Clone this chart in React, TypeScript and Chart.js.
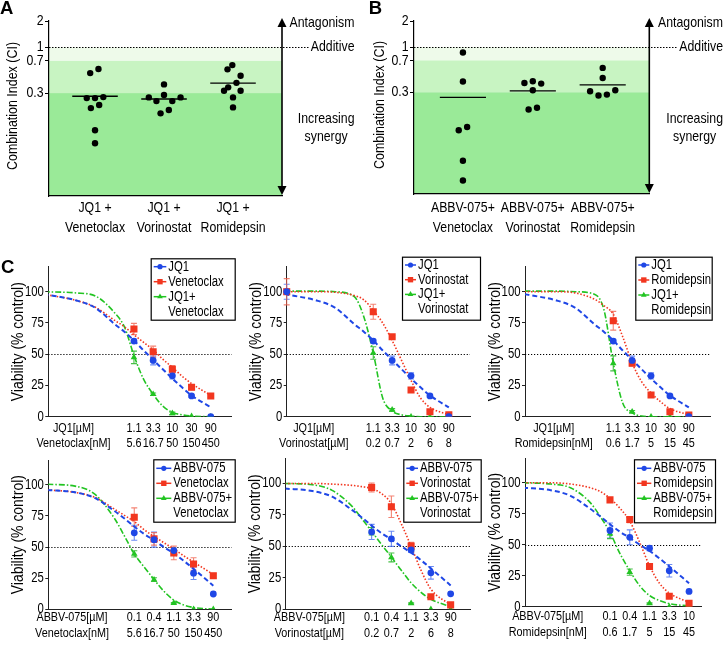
import React, { useEffect, useRef } from "react";
import { Chart, registerables } from "chart.js";

Chart.register(...registerables);

const FONT = "'Liberation Sans', Arial, Helvetica, sans-serif";
Chart.defaults.font.family = FONT;
Chart.defaults.color = "#000";

/* ================= Panels A / B : combination index ================= */
const ciLabelsA = [["JQ1 +", "Venetoclax"], ["JQ1 +", "Vorinostat"], ["JQ1 +", "Romidepsin"]];
const ciLabelsB = [["ABBV-075+", "Venetoclax"], ["ABBV-075+", "Vorinostat"], ["ABBV-075+", "Romidepsin"]];
const ciTickValues = [2, 1, 0.7, 0.3];

const ciJq1Venetoclax = [0.565, 0.508, 0.263, 0.263, 0.27, 0.219, 0.202, 0.113, 0.08];
const ciJq1VenetoclaxSpread = [0.05, -0.07, -0.12, 0, 0.12, 0.06, -0.06, 0, 0];
const ciJq1Vorinostat = [0.377, 0.268, 0.243, 0.285, 0.243, 0.268, 0.176, 0.192];
const ciJq1VorinostatSpread = [0, -0.22, -0.11, 0, 0.12, 0.24, -0.05, 0.07];
const ciJq1Romidepsin = [0.56, 0.627, 0.473, 0.393, 0.349, 0.319, 0.319, 0.268, 0.206];
const ciJq1RomidepsinSpread = [-0.08, -0.01, 0.11, 0.05, -0.07, -0.13, 0.11, 0, 0];

const ciAbbvVenetoclax = [0.866, 0.399, 0.109, 0.119, 0.0484, 0.0286];
const ciAbbvVenetoclaxSpread = [0, 0, -0.06, 0.06, 0, 0];
const ciAbbvVorinostat = [0.384, 0.402, 0.378, 0.316, 0.19, 0.199];
const ciAbbvVorinostatSpread = [-0.12, 0, 0.12, 0, -0.06, 0.06];
const ciAbbvRomidepsin = [0.574, 0.439, 0.308, 0.275, 0.282, 0.316];
const ciAbbvRomidepsinSpread = [0, 0, -0.18, -0.06, 0.06, 0.18];

/* ================= Panel C : dose response ================= */
const doseSteps = [0, 1, 2, 3, 4];
const fitStepsTop = [-4.7, -3, -2, -1, -0.5, 0, 0.5, 1, 1.5, 2, 2.5, 3, 4];
const fitStepsBottom = [-4.4, -3, -2, -1, -0.5, 0, 0.5, 1, 1.5, 2, 2.5, 3, 4];

const jq1Doses = ["1.1", "3.3", "10", "30", "90"];
const abbvDoses = ["0.1", "0.4", "1.1", "3.3", "90"];
const abbvDosesRomidepsin = ["0.1", "0.4", "1.1", "3.3", "10"];
const venetoclaxDoses = ["5.6", "16.7", "50", "150", "450"];
const vorinostatDoses = ["0.2", "0.7", "2", "6", "8"];
const romidepsinDoses = ["0.6", "1.7", "5", "15", "45"];
const viabilityTicks = [0, 25, 50, 75, 100];

const jq1Viability = [60.5, 45, 32.7, 16.6, 0];
const jq1Error = [1.5, 3.5, 2.5, 1, 0];
const jq1Fit = [98, 93, 87, 74, 68, 61, 53, 45.5, 38, 30.5, 23.5, 17, 7.5];

const venetoclaxViabilityTop = [70.2, 52, 38, 23.5, 16.6];
const venetoclaxErrorTop = [4.5, 4.5, 3, 2, 1];
const venetoclaxFitTop = [98, 93, 87.5, 77, 72, 65.5, 59.5, 53.5, 46, 39.5, 32.5, 26.5, 17];
const jq1VenetoclaxViability = [47.5, 18, 2.7, 0.3, 0];
const jq1VenetoclaxError = [5, 1, 1, 0, 0];
const jq1VenetoclaxFit = [100, 99, 96.5, 83, 72, 49, 30, 18, 8.5, 3.5, 1.5, 0.5, 0];

const vorinostatViabilityTop = [84, 64, 21.4, 4, 1.5];
const vorinostatErrorTop = [6, 1, 1, 1, 0.5];
const vorinostatFitTop = [100, 100, 99.5, 97, 93.5, 85, 75, 61, 45, 29, 15, 7.5, 1.5];
const jq1VorinostatViability = [51, 5.5, 0, 0, 0];
const jq1VorinostatError = [5, 1, 0, 0, 0];
const jq1VorinostatFit = [100.5, 100.5, 100, 96, 80, 51, 15, 4.5, 1.5, 0.5, 0, 0, 0];
const vorinostatControl = [100, 100];
const vorinostatControlError = [6, 10.5];

const romidepsinViabilityTop = [76.8, 42.7, 17.4, 4, 1.4];
const romidepsinErrorTop = [7.5, 2, 1, 0.5, 0.5];
const romidepsinFitTop = [100, 100, 99, 94, 89, 82, 64, 43, 28, 19, 12, 6.5, 1.5];
const jq1RomidepsinViability = [42.7, 4, 0, 0, 0];
const jq1RomidepsinError = [6, 1, 0, 0, 0];
const jq1RomidepsinFit = [100.5, 100.5, 100, 98, 86, 43, 11, 3, 0.5, 0, 0, 0, 0];

const abbvViability = [61.5, 56, 47.2, 29, 12.3];
const abbvError = [6, 6, 2, 5, 0];
const abbvFit = [96, 94, 89.5, 79, 73, 66.5, 60.5, 55.5, 50, 45, 39, 32.5, 19];

const venetoclaxViabilityBottom = [74, 56.6, 45.3, 36.4, 27];
const venetoclaxErrorBottom = [7.5, 5, 5.5, 5, 2];
const venetoclaxFitBottom = [96, 94, 90, 80.5, 75.5, 70.5, 64, 58.5, 53.5, 48.5, 43, 38, 28];
const abbvVenetoclaxViability = [44.5, 23.8, 5, 0.1, 0];
const abbvVenetoclaxError = [2.5, 1.5, 0.5, 0, 0];
const abbvVenetoclaxFit = [100.5, 99, 92.5, 73, 59, 44.5, 34, 24, 14.5, 7.5, 3.5, 1.5, 0];

const vorinostatViabilityBottom = [96.8, 81.5, 50.2, 10, 3.5];
const vorinostatErrorBottom = [3.5, 8.5, 3, 1, 0.5];
const vorinostatFitBottom = [100, 100, 99.5, 98.5, 97.5, 96, 92, 84, 68, 50, 31, 16, 3.5];
const abbvVorinostatViability = [62, 41.2, 4.7, 0, 0];
const abbvVorinostatError = [3, 3.5, 0.5, 0, 0];
const abbvVorinostatFit = [100, 99, 94.5, 82, 72, 62, 51.5, 41.5, 31, 21, 13.5, 8, 2];

const romidepsinViabilityBottom = [86.2, 70.3, 32.4, 8.5, 2.7];
const romidepsinErrorBottom = [1.5, 2.5, 1.5, 1, 0.5];
const romidepsinFitBottom = [100, 100, 99, 96, 93, 87.5, 79.5, 69, 52, 33, 19, 11, 3.5];
const abbvRomidepsinViability = [58.9, 27.9, 2.7, 0, 0];
const abbvRomidepsinError = [4, 2.5, 0.5, 0, 0];
const abbvRomidepsinFit = [100, 99, 96, 84, 73, 60, 43, 29, 17, 9, 5, 2.5, 0.5];

/* ================= styles ================= */
const STYLE: any = {
  blue: { color: "#1f47e6", err: "rgba(70,110,240,0.8)", point: "circle", radius: 3.4, dash: [5, 3], width: 2, lpoint: 2.6 },
  red: { color: "#f2361f", err: "rgba(240,100,80,0.8)", point: "rect", radius: 5, dash: [1.5, 1.8], width: 1.6, lpoint: 3.8 },
  green: { color: "#22c422", err: "rgba(40,180,40,0.85)", point: "triangle", radius: 3.8, dash: [6, 2, 1.5, 2], width: 1.6, lpoint: 3.3 },
};

// condensed lettering (figure uses a narrow sans face)
const SX = 0.82;
const SZ = { ci: 15, ciTitle: 15.2, cTick: 13.8, cXTick: 13.2, cLegend: 13.8, cTitle: 17 };

function cText(
  ctx: CanvasRenderingContext2D,
  text: string,
  x: number,
  y: number,
  size: number,
  align: CanvasTextAlign,
  rotate = 0
) {
  ctx.save();
  ctx.font = `${size}px ${FONT}`;
  ctx.fillStyle = "#000";
  ctx.textAlign = align;
  ctx.textBaseline = "middle";
  ctx.translate(x, y);
  if (rotate) ctx.rotate(rotate);
  ctx.scale(SX, 1);
  ctx.fillText(text, 0, 0);
  ctx.restore();
}
function cWidth(ctx: CanvasRenderingContext2D, text: string, size: number) {
  ctx.save();
  ctx.font = `${size}px ${FONT}`;
  const w = ctx.measureText(text).width * SX;
  ctx.restore();
  return w;
}

function drawMarker(ctx: CanvasRenderingContext2D, style: string, x: number, y: number, r: number, color: string) {
  ctx.fillStyle = color;
  ctx.beginPath();
  if (style === "circle") ctx.arc(x, y, r, 0, Math.PI * 2);
  else if (style === "rect") ctx.rect(x - r * 0.707, y - r * 0.707, r * 1.414, r * 1.414);
  else {
    ctx.moveTo(x, y - r);
    ctx.lineTo(x + r * 0.866, y + r * 0.5);
    ctx.lineTo(x - r * 0.866, y + r * 0.5);
    ctx.closePath();
  }
  ctx.fill();
}

/* ================= CI chart ================= */
function CIChart(p: any) {
  const ref = useRef<HTMLCanvasElement>(null);
  useEffect(() => {
    const canvas = ref.current!;
    const datasets: any[] = [];
    p.groups.forEach((g: any, i: number) => {
      datasets.push({
        type: "scatter",
        data: g.values.map((v: number, j: number) => ({ x: i + g.spread[j], y: v })),
        pointRadius: 3.2,
        pointBackgroundColor: "#000",
        pointBorderWidth: 0,
        borderColor: "#000",
        backgroundColor: "#000",
      });
    });
    p.groups.forEach((g: any, i: number) => {
      const mean = g.values.reduce((a: number, b: number) => a + b, 0) / g.values.length;
      datasets.push({
        type: "line",
        data: [{ x: i - 0.33, y: mean }, { x: i + 0.33, y: mean }],
        borderColor: "#000",
        borderWidth: 1.4,
        pointRadius: 0,
        showLine: true,
      });
    });
    const decor = {
      id: "ciDecor",
      beforeDraw(chart: any) {
        const { ctx, chartArea: a, scales } = chart;
        const y = scales.y;
        const yv = (v: number) => y.getPixelForValue(v);
        const w = a.right - a.left;
        ctx.save();
        ctx.fillStyle = "#eefaea";
        ctx.fillRect(a.left, yv(1), w, yv(0.7) - yv(1));
        ctx.fillStyle = "#c8f4c2";
        ctx.fillRect(a.left, yv(0.7), w, yv(0.3) - yv(0.7));
        ctx.fillStyle = "#9aea98";
        ctx.fillRect(a.left, yv(0.3), w, a.bottom - yv(0.3));
        ctx.restore();
      },
      afterDraw(chart: any) {
        const { ctx, chartArea: a, scales } = chart;
        const { x, y } = scales;
        // axis labels
        ciTickValues.forEach((v) => cText(ctx, String(v), a.left - 5.5, y.getPixelForValue(v), SZ.ci, "right"));
        p.labels.forEach((lines: string[], i: number) =>
          lines.forEach((ln, k) =>
            cText(ctx, ln, x.getPixelForValue(i), a.bottom + p.tickPad + 9.7 + k * 19.4, SZ.ci, "center")
          )
        );
        cText(ctx, "Combination Index (CI)", p.titleCenter, (a.top + a.bottom) / 2 - 2.5, SZ.ciTitle, "center", -Math.PI / 2);
        // annotations
        cText(ctx, "Antagonism", p.textRight, a.top + 2, SZ.ci, "right");
        const y1 = y.getPixelForValue(1);
        cText(ctx, "Additive", p.textRight, y1, SZ.ci, "right");
        const addW = cWidth(ctx, "Additive", SZ.ci);
        ctx.save();
        ctx.strokeStyle = "#000";
        ctx.lineWidth = 1;
        ctx.setLineDash([1.5, 1.5]);
        ctx.beginPath();
        ctx.moveTo(a.left, Math.round(y1) + 0.5);
        ctx.lineTo(p.textRight - addW - 2, Math.round(y1) + 0.5);
        ctx.stroke();
        ctx.restore();
        const incW = cWidth(ctx, "Increasing", SZ.ci);
        cText(ctx, "Increasing", p.textRight - incW / 2, a.top + 98, SZ.ci, "center");
        cText(ctx, "synergy", p.textRight - incW / 2, a.top + 115.7, SZ.ci, "center");
        // arrow
        ctx.save();
        ctx.strokeStyle = "#000";
        ctx.fillStyle = "#000";
        const ax = a.right;
        const tTop = a.top - 3;
        const tBot = a.bottom - 1;
        ctx.lineWidth = 1.6;
        ctx.beginPath();
        ctx.moveTo(ax, tTop + 6);
        ctx.lineTo(ax, tBot - 6);
        ctx.stroke();
        ctx.beginPath();
        ctx.moveTo(ax, tTop);
        ctx.lineTo(ax - 4.5, tTop + 9);
        ctx.lineTo(ax + 4.5, tTop + 9);
        ctx.closePath();
        ctx.fill();
        ctx.beginPath();
        ctx.moveTo(ax, tBot);
        ctx.lineTo(ax - 4.5, tBot - 9);
        ctx.lineTo(ax + 4.5, tBot - 9);
        ctx.closePath();
        ctx.fill();
        ctx.restore();
      },
    };
    const chart = new Chart(canvas, {
      type: "scatter",
      data: { datasets },
      options: {
        animation: false,
        responsive: false,
        devicePixelRatio: 1,
        events: [],
        layout: { padding: { top: p.plotTop, right: p.width - p.plotRight, left: 0, bottom: 0 } },
        plugins: { legend: { display: false }, tooltip: { enabled: false } },
        scales: {
          x: {
            type: "linear",
            bounds: "data",
            min: p.xMin,
            max: p.xMax,
            grid: { display: false, drawTicks: false },
            border: { display: true, color: "#000", width: 1.2 },
            afterFit: (s: any) => {
              s.height = p.xAxisH;
            },
            ticks: { display: false },
          },
          y: {
            type: "logarithmic",
            bounds: "data",
            min: 0.02,
            max: 2,
            grid: { display: true, drawOnChartArea: false, drawTicks: true, tickLength: 4, color: "#000" },
            border: { display: true, color: "#000", width: 1.2 },
            afterBuildTicks: (s: any) => {
              s.ticks = ciTickValues.map((v) => ({ value: v }));
            },
            afterFit: (s: any) => {
              s.width = p.axisW;
            },
            ticks: { display: false, autoSkip: false },
          },
        },
      } as any,
      plugins: [decor],
    });
    return () => chart.destroy();
  }, []);
  return (
    <canvas
      ref={ref}
      width={p.width}
      height={p.height}
      style={{ position: "absolute", left: p.left, top: p.top, width: p.width, height: p.height }}
    />
  );
}

/* ================= Dose-response chart ================= */
function DoseChart({ p }: { p: any }) {
  const ref = useRef<HTMLCanvasElement>(null);
  useEffect(() => {
    const canvas = ref.current!;
    const datasets: any[] = [];
    p.series.forEach((s: any) => {
      const st = STYLE[s.kind];
      datasets.push({
        data: doseSteps.map((x, j) => ({ x, y: s.values[j] })),
        showLine: false,
        pointStyle: st.point,
        pointRadius: st.radius,
        pointBackgroundColor: st.color,
        pointBorderWidth: 0,
        borderColor: st.color,
        backgroundColor: st.color,
      });
    });
    p.series.forEach((s: any) => {
      if (s.control == null) return;
      const st = STYLE[s.kind];
      datasets.push({
        data: [{ x: p.xMin, y: s.control }],
        showLine: false,
        clip: false,
        pointStyle: st.point,
        pointRadius: st.radius,
        pointBackgroundColor: st.color,
        pointBorderWidth: 0,
        borderColor: st.color,
        backgroundColor: st.color,
      });
    });
    p.series.forEach((s: any) => {
      const st = STYLE[s.kind];
      datasets.push({
        data: p.fitSteps.map((x: number, j: number) => ({ x, y: s.fit[j] })),
        borderColor: st.color,
        borderWidth: st.width,
        borderDash: st.dash,
        pointRadius: 0,
        fill: false,
        cubicInterpolationMode: "monotone",
      });
    });
    const decor = {
      id: "doseDecor",
      beforeDatasetsDraw(chart: any) {
        const { ctx, chartArea: a, scales } = chart;
        const { x, y } = scales;
        ctx.save();
        ctx.strokeStyle = "#000";
        ctx.lineWidth = 1;
        ctx.setLineDash([1.2, 1.8]);
        const yy = Math.round(y.getPixelForValue(50)) + 0.5;
        ctx.beginPath();
        ctx.moveTo(a.left, yy);
        ctx.lineTo(a.right, yy);
        ctx.stroke();
        ctx.setLineDash([]);
        const bar = (xs: number, v: number, e: number, color: string) => {
          if (!(e > 0)) return;
          const px = x.getPixelForValue(xs);
          const y0 = y.getPixelForValue(v - e);
          const y1 = y.getPixelForValue(v + e);
          ctx.strokeStyle = color;
          ctx.lineWidth = 1.1;
          ctx.beginPath();
          ctx.moveTo(px, y0);
          ctx.lineTo(px, y1);
          ctx.moveTo(px - 3, y0);
          ctx.lineTo(px + 3, y0);
          ctx.moveTo(px - 3, y1);
          ctx.lineTo(px + 3, y1);
          ctx.stroke();
        };
        p.series.forEach((s: any) => {
          const st = STYLE[s.kind];
          doseSteps.forEach((xs, j) => bar(xs, s.values[j], s.errors[j], st.err));
          if (s.control != null) bar(p.xMin, s.control, s.controlErr, st.err);
        });
        ctx.restore();
      },
      afterDraw(chart: any) {
        const { ctx, chartArea: a, scales } = chart;
        const { x, y } = scales;
        // axis labels
        viabilityTicks.forEach((v) => cText(ctx, String(v), a.left - 4.5, y.getPixelForValue(v), SZ.cTick, "right"));
        const ly = a.bottom + p.tickPad + p.tickLH / 2;
        const cols = [{ v: p.namePos, lines: p.names }].concat(
          doseSteps.map((v, i) => ({ v, lines: [p.doses1[i], p.doses2[i]] }))
        );
        cols.forEach((c: any) =>
          c.lines.forEach((ln: string, k: number) => cText(ctx, ln, x.getPixelForValue(c.v), ly + k * p.tickLH, SZ.cXTick, "center"))
        );
        cText(ctx, "Viability (% control)", a.left - 30, (a.top + a.bottom) / 2, SZ.cTitle, "center", -Math.PI / 2);
        // legend
        const L = p.legend;
        ctx.save();
        ctx.fillStyle = "#fff";
        ctx.fillRect(L.x, L.y, L.w, L.h);
        ctx.strokeStyle = "#000";
        ctx.lineWidth = 1.2;
        ctx.strokeRect(L.x + 0.5, L.y + 0.5, L.w - 1, L.h - 1);
        let row = 0;
        p.series.forEach((s: any) => {
          const st = STYLE[s.kind];
          const yy = L.y + L.firstY + row * L.step;
          ctx.strokeStyle = st.color;
          ctx.lineWidth = 1.5;
          ctx.beginPath();
          ctx.moveTo(L.x + 3, yy);
          ctx.lineTo(L.textX - 2, yy);
          ctx.stroke();
          drawMarker(ctx, st.point, (L.x + 3 + L.textX - 2) / 2, yy, st.lpoint, st.color);
          const lines = s.label.split("\n");
          lines.forEach((ln: string, k: number) => cText(ctx, ln, L.textX, yy + k * L.step, SZ.cLegend, "left"));
          row += lines.length;
        });
        ctx.restore();
      },
    };
    const chart = new Chart(canvas, {
      type: "line",
      data: { datasets },
      options: {
        animation: false,
        responsive: false,
        devicePixelRatio: 1,
        events: [],
        layout: { padding: { top: p.plotTop, right: p.width - p.plotRight, left: 0, bottom: 0 } },
        plugins: { legend: { display: false }, tooltip: { enabled: false } },
        scales: {
          x: {
            type: "linear",
            bounds: "data",
            min: p.xMin,
            max: p.xMax,
            grid: { display: false, drawTicks: false },
            border: { display: true, color: "#222", width: 1 },
            afterFit: (s: any) => {
              s.height = p.xAxisH;
            },
            ticks: { display: false },
          },
          y: {
            type: "linear",
            bounds: "data",
            min: 0,
            max: 120,
            grid: { display: true, drawOnChartArea: false, drawTicks: true, tickLength: 3, color: "#222" },
            border: { display: true, color: "#222", width: 1 },
            afterBuildTicks: (s: any) => {
              s.ticks = viabilityTicks.map((v) => ({ value: v }));
            },
            afterFit: (s: any) => {
              s.width = p.axisW;
            },
            ticks: { display: false, autoSkip: false },
          },
        },
      } as any,
      plugins: [decor],
    });
    return () => chart.destroy();
  }, []);
  return (
    <canvas
      ref={ref}
      width={p.width}
      height={p.height}
      style={{ position: "absolute", left: p.left, top: p.top, width: p.width, height: p.height }}
    />
  );
}

/* ================= layouts ================= */
const panelA = {
  left: 0, top: 0, width: 362, height: 240, axisW: 49, plotTop: 21, plotRight: 282, xAxisH: 44,
  xMin: -0.667, xMax: 2.71, titleCenter: 13.3, tickPad: 2.6, textRight: 354.5, labels: ciLabelsA,
  groups: [
    { values: ciJq1Venetoclax, spread: ciJq1VenetoclaxSpread },
    { values: ciJq1Vorinostat, spread: ciJq1VorinostatSpread },
    { values: ciJq1Romidepsin, spread: ciJq1RomidepsinSpread },
  ],
};
const panelB = {
  left: 362, top: 0, width: 363, height: 240, axisW: 52, plotTop: 21, plotRight: 287.3, xAxisH: 46,
  xMin: -0.7, xMax: 2.667, titleCenter: 17.7, tickPad: 4.6, textRight: 361, labels: ciLabelsB,
  groups: [
    { values: ciAbbvVenetoclax, spread: ciAbbvVenetoclaxSpread },
    { values: ciAbbvVorinostat, spread: ciAbbvVorinostatSpread },
    { values: ciAbbvRomidepsin, spread: ciAbbvRomidepsinSpread },
  ],
};

const rowTop = { top: 250, height: 203, plotTop: 16.7, xAxisH: 36.3, tickPad: 4, tickLH: 15.3, fitSteps: fitStepsTop, namePos: -3.15 };
const rowBottom = { top: 453, height: 192, xAxisH: 35.7, tickPad: 0, tickLH: 16, fitSteps: fitStepsBottom, namePos: -3.15 };

const cPanels = [
  {
    ...rowTop, left: 0, width: 245, axisW: 48.3, plotRight: 231.7, xMin: -4.46, xMax: 5.09,
    names: ["JQ1[µM]", "Venetoclax[nM]"], doses1: jq1Doses, doses2: venetoclaxDoses,
    legend: { x: 150.7, y: 8.3, w: 85, h: 62.4, textX: 168.3, firstY: 8.4, step: 15 },
    series: [
      { label: "JQ1", kind: "blue", values: jq1Viability, errors: jq1Error, fit: jq1Fit },
      { label: "Venetoclax", kind: "red", values: venetoclaxViabilityTop, errors: venetoclaxErrorTop, fit: venetoclaxFitTop },
      { label: "JQ1+\nVenetoclax", kind: "green", values: jq1VenetoclaxViability, errors: jq1VenetoclaxError, fit: jq1VenetoclaxFit },
    ],
  },
  {
    ...rowTop, left: 238, width: 245, axisW: 48.7, plotRight: 232, xMin: -4.58, xMax: 5.12,
    names: ["JQ1[µM]", "Vorinostat[µM]"], doses1: jq1Doses, doses2: vorinostatDoses,
    legend: { x: 164, y: 6.7, w: 79, h: 64, textX: 180, firstY: 8.3, step: 14.7 },
    series: [
      { label: "JQ1", kind: "blue", values: jq1Viability, errors: jq1Error, fit: jq1Fit, control: vorinostatControl[0], controlErr: vorinostatControlError[0] },
      { label: "Vorinostat", kind: "red", values: vorinostatViabilityTop, errors: vorinostatErrorTop, fit: vorinostatFitTop, control: vorinostatControl[1], controlErr: vorinostatControlError[1] },
      { label: "JQ1+\nVorinostat", kind: "green", values: jq1VorinostatViability, errors: jq1VorinostatError, fit: jq1VorinostatFit },
    ],
  },
  {
    ...rowTop, left: 477, width: 245, axisW: 48, plotRight: 233, xMin: -4.67, xMax: 5.12,
    names: ["JQ1[µM]", "Romidepsin[nM]"], doses1: jq1Doses, doses2: romidepsinDoses,
    legend: { x: 158.3, y: 6.7, w: 77.4, h: 64, textX: 174.3, firstY: 8.3, step: 15 },
    series: [
      { label: "JQ1", kind: "blue", values: jq1Viability, errors: jq1Error, fit: jq1Fit },
      { label: "Romidepsin", kind: "red", values: romidepsinViabilityTop, errors: romidepsinErrorTop, fit: romidepsinFitTop },
      { label: "JQ1+\nRomidepsin", kind: "green", values: jq1RomidepsinViability, errors: jq1RomidepsinError, fit: jq1RomidepsinFit },
    ],
  },
  {
    ...rowBottom, left: 0, width: 245, axisW: 48.3, plotTop: 7, plotRight: 231.7, xMin: -4.35, xMax: 4.93,
    names: ["ABBV-075[µM]", "Venetoclax[nM]"], doses1: abbvDoses, doses2: venetoclaxDoses,
    legend: { x: 153.3, y: 6.3, w: 82.4, h: 63.4, textX: 173.3, firstY: 9, step: 15 },
    series: [
      { label: "ABBV-075", kind: "blue", values: abbvViability, errors: abbvError, fit: abbvFit },
      { label: "Venetoclax", kind: "red", values: venetoclaxViabilityBottom, errors: venetoclaxErrorBottom, fit: venetoclaxFitBottom },
      { label: "ABBV-075+\nVenetoclax", kind: "green", values: abbvVenetoclaxViability, errors: abbvVenetoclaxError, fit: abbvVenetoclaxFit },
    ],
  },
  {
    ...rowBottom, left: 237, width: 245, axisW: 48.7, plotTop: 5.3, plotRight: 233, xMin: -4.35, xMax: 4.98,
    names: ["ABBV-075[µM]", "Vorinostat[µM]"], doses1: abbvDoses, doses2: vorinostatDoses,
    legend: { x: 166.3, y: 6.3, w: 78.4, h: 63.4, textX: 183, firstY: 9, step: 15 },
    series: [
      { label: "ABBV-075", kind: "blue", values: abbvViability, errors: abbvError, fit: abbvFit },
      { label: "Vorinostat", kind: "red", values: vorinostatViabilityBottom, errors: vorinostatErrorBottom, fit: vorinostatFitBottom },
      { label: "ABBV-075+\nVorinostat", kind: "green", values: abbvVorinostatViability, errors: abbvVorinostatError, fit: abbvVorinostatFit },
    ],
  },
  {
    ...rowBottom, left: 477, width: 245, axisW: 48, plotTop: 2.9, plotRight: 224.7, xAxisH: 38.3, tickPad: 2, tickLH: 15.6,
    xMin: -4.3, xMax: 4.64,
    names: ["ABBV-075[µM]", "Romidepsin[nM]"], doses1: abbvDosesRomidepsin, doses2: romidepsinDoses,
    legend: { x: 157, y: 6.3, w: 82, h: 64, textX: 176.3, firstY: 9, step: 15 },
    series: [
      { label: "ABBV-075", kind: "blue", values: abbvViability, errors: abbvError, fit: abbvFit },
      { label: "Romidepsin", kind: "red", values: romidepsinViabilityBottom, errors: romidepsinErrorBottom, fit: romidepsinFitBottom },
      { label: "ABBV-075+\nRomidepsin", kind: "green", values: abbvRomidepsinViability, errors: abbvRomidepsinError, fit: abbvRomidepsinFit },
    ],
  },
];

const letter = (left: number, top: number): React.CSSProperties => ({
  position: "absolute",
  left,
  top,
  font: `bold 18.5px ${FONT}`,
  lineHeight: "18.5px",
  color: "#000",
  margin: 0,
});

export default function App() {
  return (
    <div style={{ position: "absolute", left: 0, top: 0, width: 725, height: 645, background: "#fff", overflow: "hidden" }}>
      <CIChart {...panelA} />
      <CIChart {...panelB} />
      {cPanels.map((p, i) => (
        <DoseChart key={i} p={p} />
      ))}
      <div style={letter(0, -0.7)}>A</div>
      <div style={letter(368.7, -0.7)}>B</div>
      <div style={letter(1, 257.6)}>C</div>
    </div>
  );
}
